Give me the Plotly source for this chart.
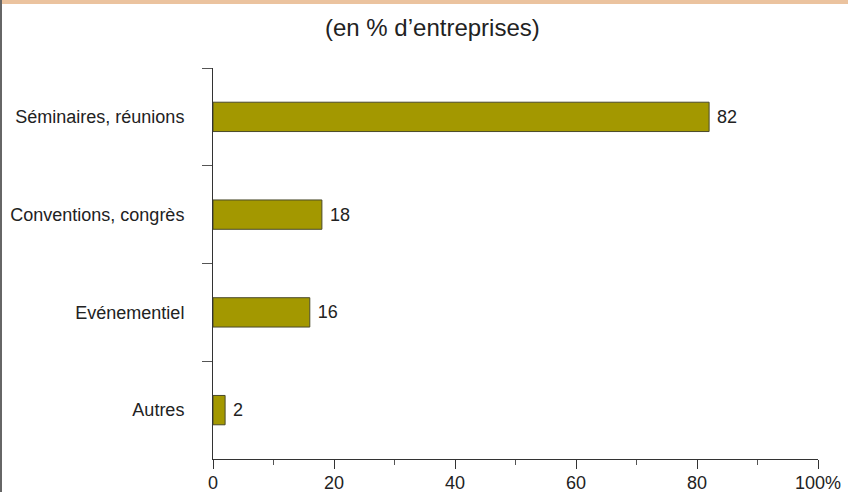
import plotly.graph_objects as go

categories = ["Séminaires, réunions", "Conventions, congrès", "Evénementiel", "Autres"]
values = [82, 18, 16, 2]
tick_values = [0, 20, 40, 60, 80, 100]
tick_labels = ["0", "20", "40", "60", "80", "100%"]

W, H = 848, 492
ML, MR, MT, MB = 213, 30, 68, 33
PW, PH = W - ML - MR, H - MT - MB
FONT = "Liberation Sans, Arial"

def px_x(x):
    return (x - ML) / PW

def px_y(y):
    return 1 - (y - MT) / PH

fig = go.Figure(
    go.Bar(
        x=values,
        y=categories,
        orientation="h",
        width=0.3,
        marker=dict(color="#A39800", line=dict(color="#4a4a2a", width=1)),
        text=[str(v) for v in values],
        texttemplate=" %{text}",
        textposition="outside",
        textfont=dict(family=FONT, size=18, color="#222222"),
        cliponaxis=False,
    )
)

fig.update_layout(
    template="none",
    width=W,
    height=H,
    margin=dict(l=ML, r=MR, t=MT, b=MB, autoexpand=False),
    paper_bgcolor="white",
    plot_bgcolor="white",
    showlegend=False,
    font=dict(family=FONT, size=18, color="#222222"),
    annotations=[
        dict(
            text="(en % d\u2019entreprises)",
            x=px_x(432), xref="paper", xanchor="center",
            y=px_y(27), yref="paper", yanchor="middle",
            showarrow=False,
            font=dict(family=FONT, size=24, color="#222222"),
        )
    ],
    shapes=[
        # orange band across the top
        dict(type="rect", xref="paper", yref="paper",
             x0=px_x(2), x1=px_x(W), y0=px_y(0), y1=px_y(4),
             fillcolor="#EBC39F", line=dict(width=0), layer="below"),
        # frame line on the left edge
        dict(type="line", xref="paper", yref="paper",
             x0=px_x(1), x1=px_x(1), y0=px_y(0), y1=px_y(H),
             line=dict(color="#333333", width=1.5)),
    ],
)

fig.update_xaxes(
    automargin=False,
    range=[0, 100],
    tickvals=tick_values,
    ticktext=tick_labels,
    ticks="outside",
    ticklen=9,
    tickwidth=1,
    tickcolor="#333333",
    ticklabelstandoff=-2,
    minor=dict(dtick=10, ticks="outside", ticklen=5, tickcolor="#555555", tickwidth=1),
    showline=True,
    linecolor="#333333",
    linewidth=1,
    showgrid=False,
    zeroline=False,
    tickfont=dict(family=FONT, size=18, color="#222222"),
)

fig.update_yaxes(
    automargin=False,
    autorange="reversed",
    tickson="boundaries",
    ticks="outside",
    ticklen=10,
    tickwidth=1,
    tickcolor="#555555",
    ticklabelstandoff=24,
    showline=True,
    linecolor="#333333",
    linewidth=1,
    showgrid=False,
    zeroline=False,
    tickfont=dict(family=FONT, size=18, color="#222222"),
)

fig.write_html("out.html")
